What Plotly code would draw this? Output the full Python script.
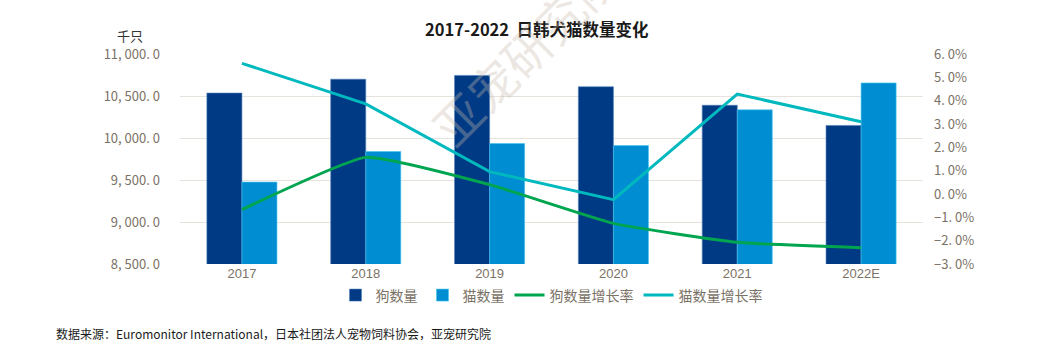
import plotly.graph_objects as go

years = ["2017", "2018", "2019", "2020", "2021", "2022E"]
dogs = [10535, 10700, 10745, 10610, 10390, 10150]
cats = [9475, 9840, 9935, 9910, 10335, 10655]
dog_growth = [-0.67, 1.57, 0.40, -1.26, -2.07, -2.30]
cat_growth = [5.60, 3.86, 0.96, -0.24, 4.28, 3.10]

left_ticks = [8500, 9000, 9500, 10000, 10500, 11000]
left_labels = ["8, 500. 0", "9, 000. 0", "9, 500. 0", "10, 000. 0", "10, 500. 0", "11, 000. 0"]
right_ticks = [-3, -2, -1, 0, 1, 2, 3, 4, 5, 6]
right_labels = ["−3. 0%", "−2. 0%", "−1. 0%", "0. 0%", "1. 0%", "2. 0%", "3. 0%", "4. 0%", "5. 0%", "6. 0%"]

DOG = "#003984"
CAT = "#008DD2"
GREEN = "#00A550"
CYAN = "#00B9BF"
TICK = "#7B7266"
FONT = "Noto Sans CJK SC"

fig = go.Figure()
fig.add_trace(go.Bar(x=years, y=dogs, name="狗数量", marker=dict(color=DOG, line=dict(color="#4f7fb8", width=0.6))))
fig.add_trace(go.Bar(x=years, y=cats, name="猫数量", marker=dict(color=CAT, line=dict(color="#45c6ee", width=0.6))))
fig.add_trace(go.Scatter(x=years, y=dog_growth, name="狗数量增长率", yaxis="y2", mode="lines",
                         line=dict(color=GREEN, width=3, shape="spline", smoothing=0.4)))
fig.add_trace(go.Scatter(x=years, y=cat_growth, name="猫数量增长率", yaxis="y2", mode="lines",
                         line=dict(color=CYAN, width=3)))

fig.update_layout(
    width=1061, height=351,
    margin=dict(l=180, r=138, t=54, b=87),
    paper_bgcolor="white", plot_bgcolor="white",
    font=dict(family=FONT, color=TICK, size=13),
    barmode="group", bargap=0.434, bargroupgap=0,
    title=dict(text="<b>2017-2022&nbsp; 日韩犬猫数量变化</b>", x=0.506, xanchor="center", y=0.915, yanchor="middle",
               font=dict(family=FONT, size=16.5, color="#1a1a1a")),
    xaxis=dict(showgrid=False, showline=False, ticks="", tickfont=dict(size=13, color=TICK, family="Liberation Sans")),
    yaxis=dict(range=[8500, 11000], tickvals=left_ticks, ticktext=left_labels, showgrid=True,
               gridcolor="#E6E2DC", gridwidth=1.2, zeroline=False, ticks="", ticklabelstandoff=19,
               tickfont=dict(size=13, color=TICK, family="Noto Sans CJK SC")),
    yaxis2=dict(range=[-3, 6], tickvals=right_ticks, ticktext=right_labels, overlaying="y", side="right",
                showgrid=False, zeroline=False, ticks="", ticklabelstandoff=10,
                tickfont=dict(size=13, color=TICK, family="Noto Sans CJK SC")),
    legend=dict(orientation="h", x=0.5, xanchor="center", y=-0.15, yanchor="middle",
                font=dict(size=14, color=TICK, family=FONT), itemwidth=30, bgcolor="rgba(0,0,0,0)"),
    showlegend=True,
)

fig.add_annotation(text="千只", xref="paper", yref="paper", x=-0.067, y=1.09, yanchor="middle", xanchor="center",
                   showarrow=False, font=dict(size=13, color="#333333", family=FONT))
fig.add_annotation(text="数据来源：Euromonitor International，日本社团法人宠物饲料协会，亚宠研究院",
                   xref="paper", yref="paper", x=-0.17, xanchor="left", y=-0.33, yanchor="middle",
                   showarrow=False, font=dict(size=12, color="#1a1a1a", family=FONT))
fig.add_annotation(text="亚宠研究院", xref="paper", yref="paper", x=0.464, y=1.02, xanchor="center", yanchor="middle",
                   showarrow=False, textangle=-45,
                   font=dict(size=48, color="rgba(200,188,172,0.35)", family=FONT))

fig.write_html("out.html")
